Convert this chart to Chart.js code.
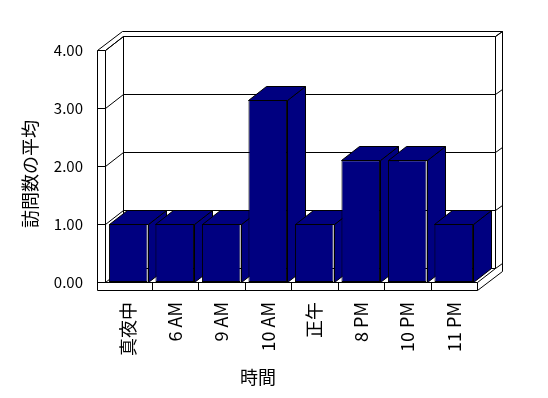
<!DOCTYPE html>
<html>
<head>
<meta charset="utf-8">
<title>訪問数の平均</title>
<script src="https://cdn.jsdelivr.net/npm/chart.js@4"></script>
<style>
body { margin:0; background:#fff; }
#box { width:548px; height:398px; }
</style>
</head>
<body>
<div id="box"><canvas id="c"></canvas></div>
<script>
var labels = ['真夜中', '6 AM', '9 AM', '10 AM', '正午', '8 PM', '10 PM', '11 PM'];
var visits = [1, 1, 1, 3.14, 1, 2.1, 2.1, 1];
var yTicks = [0, 1, 2, 3, 4];
var yTitle = '訪問数の平均';
var xTitle = '時間';

var DX = 18, DY = 14;   // depth of the back plane
var OX = 25, OY = 19;   // outer edge of the back wall
var WALL = 8;           // thickness of left wall / floor
var navy = '#000080';
var jp = '"Noto Sans CJK JP", "Noto Sans", sans-serif';

function px(v) { return Math.round(v) + 0.5; }
function line(ctx, x1, y1, x2, y2) {
  ctx.beginPath();
  ctx.moveTo(px(x1), px(y1));
  ctx.lineTo(px(x2), px(y2));
  ctx.stroke();
}
function poly(ctx, pts) {
  ctx.beginPath();
  pts.forEach(function (p, i) {
    if (i == 0) ctx.moveTo(px(p[0]), px(p[1]));
    else ctx.lineTo(px(p[0]), px(p[1]));
  });
  ctx.closePath();
  ctx.fill();
  ctx.stroke();
}

var box3d = {
  id: 'box3d',
  beforeDraw: function (chart) {
    var ctx = chart.ctx;
    ctx.save();
    ctx.fillStyle = '#fff';
    ctx.fillRect(0, 0, chart.width, chart.height);
    ctx.restore();
  },
  beforeDatasetsDraw: function (chart) {
    var ctx = chart.ctx, a = chart.chartArea;
    var ys = chart.scales.y, xs = chart.scales.x;
    var L = a.left, R = a.right, T = a.top, B = a.bottom;
    ctx.save();
    ctx.strokeStyle = '#000';
    ctx.lineWidth = 1;

    // back wall
    line(ctx, L - WALL + OX, T - OY, R + OX, T - OY);
    line(ctx, R + OX, T - OY, R + OX, B + WALL - OY);
    line(ctx, L + DX, T - DY, R + DX, T - DY);
    line(ctx, L + DX, T - DY, L + DX, B - DY);
    line(ctx, R + DX, T - DY, R + DX, B - DY);
    line(ctx, L + DX, B - DY, R + DX, B - DY);
    line(ctx, R + DX, T - DY, R + OX, T - OY);

    // grid lines
    yTicks.forEach(function (v) {
      var y = ys.getPixelForValue(v);
      line(ctx, L + DX, y - DY, R + DX, y - DY);
      line(ctx, L, y, L + DX, y - DY);
      line(ctx, R + DX, y - DY, R + OX, y - OY);
      line(ctx, L - WALL, y, L, y);
    });

    // left wall
    line(ctx, L - WALL, T, L - WALL, B + WALL);
    line(ctx, L, T, L, B);
    line(ctx, L - WALL, T, L - WALL + OX, T - OY);
    line(ctx, L, T, L + DX, T - DY);

    // floor
    line(ctx, L - WALL, B, R, B);
    line(ctx, L - WALL, B + WALL, R, B + WALL);
    line(ctx, R, B, R, B + WALL);
    line(ctx, R, B, R + DX, B - DY);
    line(ctx, R, B + WALL, R + OX, B + WALL - OY);
    for (var i = 1; i < labels.length; i++) {
      var x = (xs.getPixelForValue(i - 1) + xs.getPixelForValue(i)) / 2;
      line(ctx, x, B, x, B + WALL);
    }

    // bars, left to right
    ctx.fillStyle = navy;
    chart.getDatasetMeta(0).data.forEach(function (bar) {
      var p = bar.getProps(['x', 'y', 'base', 'width'], true);
      var l = p.x - p.width / 2, r = p.x + p.width / 2;
      poly(ctx, [[r, p.y], [r + DX, p.y - DY], [r + DX, p.base - DY], [r, p.base]]);
      poly(ctx, [[l, p.y], [l + DX, p.y - DY], [r + DX, p.y - DY], [r, p.y]]);
      bar.draw(ctx);
    });
    ctx.restore();
    return false;
  },
  afterDraw: function (chart) {
    var ctx = chart.ctx;
    ctx.save();
    ctx.fillStyle = '#000';
    ctx.font = '18px ' + jp;
    ctx.textAlign = 'center';
    ctx.textBaseline = 'middle';
    ctx.fillText(xTitle, 258, 377);
    ctx.translate(30, 174);
    ctx.rotate(-Math.PI / 2);
    ctx.fillText(yTitle, 0, 0);
    ctx.restore();
  }
};

new Chart(document.getElementById('c'), {
  type: 'bar',
  data: {
    labels: labels,
    datasets: [{
      data: visits,
      backgroundColor: navy,
      borderColor: '#000',
      borderWidth: 1,
      borderSkipped: false,
      barPercentage: 0.83,
      categoryPercentage: 1
    }]
  },
  options: {
    responsive: true,
    maintainAspectRatio: false,
    animation: false,
    layout: { padding: { left: 0, top: 50, right: 71, bottom: 0 } },
    plugins: { legend: { display: false }, tooltip: { enabled: false } },
    scales: {
      x: {
        grid: { display: false, drawTicks: false },
        border: { display: false },
        ticks: {
          color: '#000', font: { family: jp, size: 18 },
          minRotation: 90, maxRotation: 90, padding: 20, autoSkip: false
        },
        afterFit: function (s) { s.height = 116; }
      },
      y: {
        min: 0, max: 4,
        grid: { display: false, drawTicks: false },
        border: { display: false },
        ticks: {
          stepSize: 1, color: '#000', padding: 22,
          font: { family: jp, size: 15 },
          callback: function (v) { return v.toFixed(2); }
        },
        afterFit: function (s) { s.width = 105; }
      }
    }
  },
  plugins: [box3d]
});
</script>
</body>
</html>
